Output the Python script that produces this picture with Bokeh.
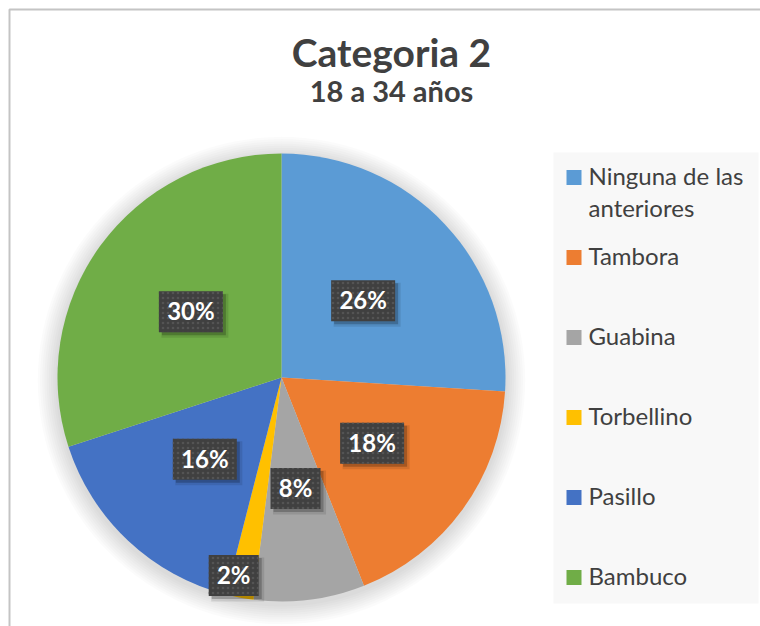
import math
from bokeh.plotting import figure
from bokeh.models import Range1d
from bokeh.core.properties import value
from bokeh.embed import file_html
from bokeh.resources import INLINE

# ---- data ----
title = "Categoria 2"
subtitle = "18 a 34 años"
categories = ["Ninguna de las anteriores", "Tambora", "Guabina", "Torbellino", "Pasillo", "Bambuco"]
legend_lines = [["Ninguna de las", "anteriores"], ["Tambora"], ["Guabina"], ["Torbellino"], ["Pasillo"], ["Bambuco"]]
percentages = [26, 18, 8, 2, 16, 30]
colors = ["#5B9BD5", "#ED7D31", "#A5A5A5", "#FFC000", "#4472C4", "#70AD47"]

W, H = 760, 626
FONT = "Lato"
TXT = "#404040"
BASE_FIX = 0.42  # compensation for baseline placement (em)

p = figure(width=W, height=H, x_range=Range1d(0, W), y_range=Range1d(0, H),
           output_backend="svg", toolbar_location=None, min_border=0)
p.axis.visible = False
p.grid.visible = False
p.outline_line_color = None
p.background_fill_color = "white"
p.border_fill_color = "white"


def txt(x, y, s, size, **kw):
    p.text(x=[x], y=[y + BASE_FIX * size], text=[s], text_font=value(FONT),
           text_font_size=f"{size}px", text_baseline="alphabetic", **kw)


# chart border (top & left visible, rest clipped by window)
p.line(x=[9, 9, W], y=[0, 617, 617], line_color="#c4c4c4", line_width=2)

# titles
txt(391, 558, title, 39, text_font_style="bold", text_color=TXT, text_align="center")
txt(391, 524, subtitle, 29, text_font_style="bold", text_color=TXT, text_align="center")

# pie
cx, cy, R = 281, 249, 224
for k in range(1, 10):
    p.circle(x=[cx], y=[cy - 3], radius=R + k * 2.2, fill_color="black", fill_alpha=0.014, line_color=None)

total = sum(percentages)
cum = 0.0
starts, ends, mids = [], [], []
for v in percentages:
    a0 = cum / total
    cum += v
    a1 = cum / total
    starts.append(math.pi / 2 - 2 * math.pi * a0)
    ends.append(math.pi / 2 - 2 * math.pi * a1)
    mids.append((a0 + a1) / 2)

p.wedge(x=[cx] * len(percentages), y=[cy] * len(percentages), radius=R,
        start_angle=starts, end_angle=ends, direction="clock",
        fill_color=colors, line_color=None)

# data labels
label_r = [0.5, 0.5, 0.5, 0.9, 0.5, 0.5]
label_dx = [0, 0, 0, -10, 0, 0]
for v, m, fr, dx in zip(percentages, mids, label_r, label_dx):
    ang = 2 * math.pi * m
    lx = cx + math.sin(ang) * R * fr + dx
    ly = cy + math.cos(ang) * R * fr
    s = f"{v}%"
    bw = 64 if len(s) > 2 else 50
    bh = 41
    p.rect(x=[lx + 4], y=[ly - 4], width=bw + 3, height=bh + 3, fill_color="black", fill_alpha=0.10, line_color=None)
    p.rect(x=[lx + 3], y=[ly - 3], width=bw, height=bh, fill_color="black", fill_alpha=0.22, line_color=None)
    p.rect(x=[lx], y=[ly], width=bw, height=bh, fill_color="#404040", line_color=None,
           hatch_pattern="dot", hatch_color="#545454", hatch_scale=5, hatch_weight=1)
    txt(lx, ly - 9, s, 24, text_font_style="bold", text_color="white", text_align="center")

# legend
p.quad(left=[553], right=[758], bottom=[23], top=[474], fill_color="#f8f8f8", line_color=None)
legend_top_baseline = 441
row_gap = 80
line_gap = 32
y = legend_top_baseline
for lines, c in zip(legend_lines, colors):
    p.rect(x=[573.5], y=[y + 8], width=15, height=15, fill_color=c, line_color=None)
    for i, ln in enumerate(lines):
        txt(588, y - i * line_gap, ln, 24, text_color=TXT, text_align="left")
    y -= row_gap

open("out.html", "w").write(file_html(p, INLINE))
